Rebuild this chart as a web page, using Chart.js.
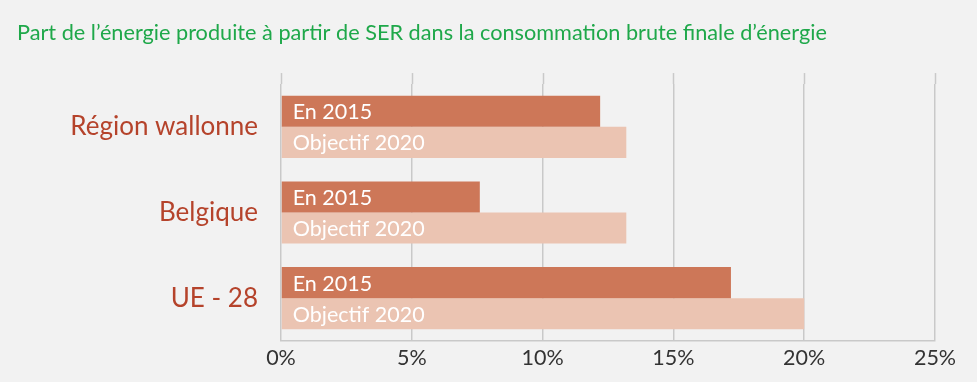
<!DOCTYPE html>
<html>
<head>
<meta charset="utf-8">
<style>
  html, body { margin: 0; padding: 0; background: #f2f2f2; }
  #wrap { width: 977px; height: 382px; }
</style>
<script src="https://cdn.jsdelivr.net/npm/chart.js@4"></script>
</head>
<body>
<div id="wrap"><canvas id="myChart" width="977" height="382"></canvas></div>
<script>
// values, in %
let regions = ['Région wallonne', 'Belgique', 'UE - 28'];
let seriesNames = ['En 2015', 'Objectif 2020'];
let en2015 = [12.2, 7.6, 17.2];
let objectif2020 = [13.2, 13.2, 20];
let xTicks = [0, 5, 10, 15, 20, 25];

// gridlines run a little above the first band in the original
const gridTop = {
  id: 'gridTop',
  beforeDatasetsDraw(chart) {
    let c = chart.ctx, x = chart.scales.x, top = chart.chartArea.top;
    c.save();
    c.strokeStyle = '#c9c9c9';
    c.lineWidth = 1.5;
    xTicks.forEach(v => {
      let px = Math.round(x.getPixelForValue(v)) + 0.5;
      c.beginPath();
      c.moveTo(px, top - 11);
      c.lineTo(px, top);
      c.stroke();
    });
    c.restore();
  }
};

// series names written inside each bar
const barNames = {
  id: 'barNames',
  afterDatasetsDraw(chart) {
    let c = chart.ctx;
    c.save();
    c.fillStyle = '#ffffff';
    c.font = '21.5px Lato';
    c.textBaseline = 'middle';
    chart.data.datasets.forEach((ds, i) => {
      chart.getDatasetMeta(i).data.forEach(bar => {
        c.fillText(ds.label, bar.base + 11, bar.y + 1);
      });
    });
    c.restore();
  }
};

const ctx = document.getElementById('myChart');

new Chart(ctx, {
  type: 'bar',
  data: {
    labels: regions,
    datasets: [{
      label: seriesNames[0],
      data: en2015,
      backgroundColor: '#cd7758'
    }, {
      label: seriesNames[1],
      data: objectif2020,
      backgroundColor: '#ebc4b2'
    }]
  },
  options: {
    indexAxis: 'y',
    responsive: false,
    animation: false,
    datasets: { bar: { barPercentage: 1, categoryPercentage: 0.725 } },
    layout: { padding: { left: 17, right: 42, top: 0, bottom: 0 } },
    plugins: {
      legend: { display: false },
      tooltip: { enabled: false },
      title: {
        display: true,
        text: "Part de l\u2019énergie produite à partir de SER dans la consommation brute finale d\u2019énergie",
        align: 'start',
        color: '#1fa84a',
        font: { family: 'Lato', size: 21.7, weight: 'normal', lineHeight: 1.2 },
        padding: { top: 20, bottom: 38 }
      }
    },
    scales: {
      x: {
        min: 0,
        max: 25,
        ticks: {
          stepSize: 5,
          callback: v => v + '%',
          color: '#333333',
          font: { family: 'Lato', size: 21.5 },
          padding: 4
        },
        grid: { color: '#c9c9c9', lineWidth: 1.5, drawTicks: false },
        border: { color: '#c9c9c9', width: 1.5 },
        afterFit: s => { s.height = 41; }
      },
      y: {
        ticks: {
          color: '#b5432b',
          font: { family: 'Lato', size: 26 },
          padding: 23
        },
        grid: { display: false, drawTicks: false },
        border: { display: false },
        afterFit: s => { s.width = 264; }
      }
    }
  },
  plugins: [gridTop, barNames]
});
</script>
</body>
</html>
